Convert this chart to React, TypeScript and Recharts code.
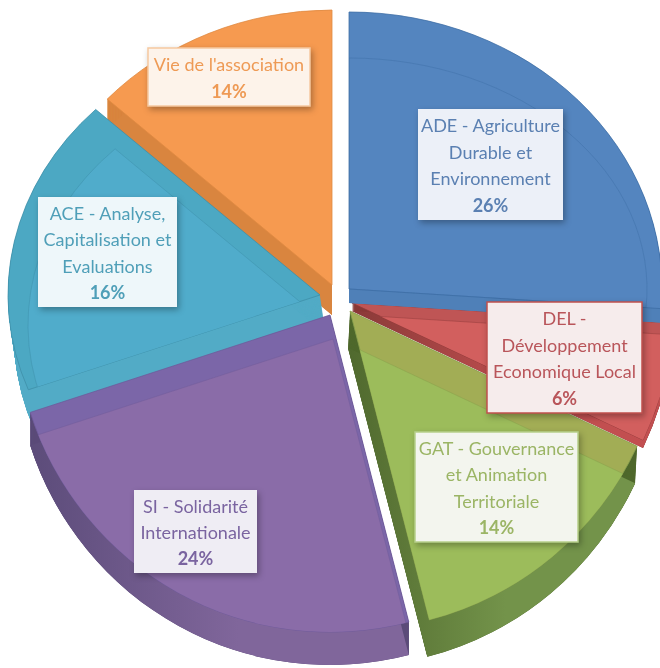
import React from "react";
import { PieChart, Pie } from "recharts";

// Drawn counter-clockwise from the top so that later slices overlap earlier ones.
const sliceKeys = ["VIE", "ACE", "SI", "GAT", "DEL", "ADE"];
const sliceShares = [14, 16, 24, 14, 6, 26];
const sliceLabels = [
  ["Vie de l'association"],
  ["ACE - Analyse,", "Capitalisation et", "Evaluations"],
  ["SI - Solidarité", "Internationale"],
  ["GAT - Gouvernance", "et Animation", "Territoriale"],
  ["DEL -", "Développement", "Economique Local"],
  ["ADE - Agriculture", "Durable et", "Environnement"],
];
const chartData = sliceKeys.map((name, i) => ({ name, value: sliceShares[i] }));

// Styles and geometry of the exploded, tilted slices (not data).
const CX = 340;
const CY = 305;
const explode = [[-8, -20], [-20, -10], [-10, 10], [10, 6], [12, -2], [9, -16]];
const radii = [[305, 275], [312, 267], [315, 317], [317, 319], [322, 320], [313, 277]];
const wallShift = [[0, 30], [6, 40], [0, 33], [-2, 37], [0, 8], [0, 14]];
const inner = [
  { dx: 0, dy: 0, rx: 0, ry: 0 },
  { dx: 8, dy: 30, rx: 300, ry: 250 },
  { dx: 3, dy: 24, rx: 340, ry: 340 },
  { dx: 6, dy: 37, rx: 340, ry: 340 },
  { dx: 5, dy: 12, rx: 330, ry: 330 },
  { dx: 0, dy: 0, rx: 298, ry: 231 },
];
const faceFill = ["#f69a50", "#4ca8c3", "#7b66a8", "#a2ad55", "#bf5555", "#5485bf"];
const innerFill = ["none", "#50accb", "#8a6ca8", "#9cbc5b", "#d25f5e", "none"];
const wallLeft = ["#d9853f", "#52abc6", "#5c4c7a", "#50692e", "#8a3a38", "#4f80b8"];
const wallRight = ["#d9853f", "#52abc6", "#80669b", "#73934a", "#c24f50", "#4f80b8"];
const lineColor = ["#e08a42", "#3f8fa8", "#6f5a9a", "#869f4c", "#8e3a3a", "#3f6ea6"];
const textColor = ["#ee9a55", "#4f9fb8", "#7a64a0", "#9bb565", "#b9555a", "#5b80b2"];
const boxStroke = ["#f6c9a0", "none", "none", "#b7cf8a", "#c0504d", "none"];
const boxFill = ["#fdf3ea", "#eef7fa", "#efedf4", "#f3f5ee", "#f6ecec", "#ecf0f8"];
const boxes = [
  [148, 48, 162, 58],
  [38, 197, 139, 110],
  [134, 490, 123, 83],
  [415, 432, 163, 110],
  [487, 302, 155, 111],
  [418, 109, 145, 111],
];

const pt = (cx: number, cy: number, rx: number, ry: number, deg: number) => {
  const a = (deg * Math.PI) / 180;
  const k = (rx * ry) / Math.hypot(ry * Math.cos(a), rx * Math.sin(a));
  return [cx + k * Math.cos(a), cy - k * Math.sin(a)];
};

const wedge = (cx: number, cy: number, rx: number, ry: number, a0: number, a1: number) => {
  const lo = Math.min(a0, a1);
  const hi = Math.max(a0, a1);
  const p1 = pt(cx, cy, rx, ry, hi);
  const p2 = pt(cx, cy, rx, ry, lo);
  const large = hi - lo > 180 ? 1 : 0;
  return `M${cx},${cy}L${p1[0]},${p1[1]}A${rx},${ry} 0 ${large} 1 ${p2[0]},${p2[1]}Z`;
};

const SliceShape = (props: any) => {
  const { cx, cy, startAngle, endAngle, index } = props;
  const ax = cx + explode[index][0];
  const ay = cy + explode[index][1];
  const [rx, ry] = radii[index];
  const [wx, wy] = wallShift[index];
  const inn = inner[index];
  const steps = Math.ceil(Math.hypot(wx, wy) * 2);
  const layers = Array.from({ length: steps }, (_, i) => 1 - i / steps);
  const faceD = wedge(ax, ay, rx, ry, startAngle, endAngle);
  const gid = `wall-${index}`;
  const cid = `clip-${index}`;
  return (
    <g>
      <defs>
        <linearGradient id={gid} x1="0" y1="0" x2="1" y2="0">
          <stop offset="0" stopColor={wallLeft[index]} />
          <stop offset="0.55" stopColor={wallRight[index]} />
          <stop offset="1" stopColor={wallRight[index]} />
        </linearGradient>
        <clipPath id={cid}>
          <path d={faceD} />
        </clipPath>
      </defs>
      <g>
        {layers.map((s) => (
          <path key={s} d={wedge(ax + wx * s, ay + wy * s, rx, ry, startAngle, endAngle)} fill={wallLeft[index]} />
        ))}
        <path d={wedge(ax + wx, ay + wy, rx, ry, startAngle, endAngle)} fill={`url(#${gid})`} />
      </g>
      <path d={faceD} fill={faceFill[index]} stroke={lineColor[index]} strokeWidth={0.8} />
      {inn.rx > 0 && (
        <path
          d={wedge(ax + inn.dx, ay + inn.dy, inn.rx, inn.ry, startAngle, endAngle)}
          fill={innerFill[index]}
          stroke={lineColor[index]}
          strokeOpacity={0.45}
          strokeWidth={1}
          clipPath={`url(#${cid})`}
        />
      )}
    </g>
  );
};

const LINE_H = 26.4;
const SliceLabel = (props: any) => {
  const { index } = props;
  const [x, y, w, h] = boxes[index];
  const lines = sliceLabels[index];
  const total = lines.length + 1;
  const firstY = y + h / 2 - ((total - 1) * LINE_H) / 2 + 7.5;
  return (
    <g>
      <rect
        x={x}
        y={y}
        width={w}
        height={h}
        fill={boxFill[index]}
        stroke={boxStroke[index]}
        strokeWidth={1.5}
        style={{ filter: "drop-shadow(2px 3px 3px rgba(0,0,0,0.3))" }}
      />
      <text x={x + w / 2} y={firstY} textAnchor="middle" fontFamily="Lato, sans-serif" fontSize={18} fill={textColor[index]}>
        {lines.map((l, i) => (
          <tspan key={l} x={x + w / 2} y={firstY + i * LINE_H}>
            {l}
          </tspan>
        ))}
        <tspan x={x + w / 2} y={firstY + lines.length * LINE_H} fontWeight={700}>
          {sliceShares[index]}%
        </tspan>
      </text>
    </g>
  );
};

export default function App() {
  return (
    <div style={{ position: "absolute", left: 0, top: 0, width: 660, height: 668, overflow: "hidden", background: "#fff" }}>
      <div style={{ filter: "blur(0.5px)" }}>
        <PieChart width={660} height={668} margin={{ top: 0, right: 0, bottom: 0, left: 0 }}>
          <Pie
            data={chartData}
            dataKey="value"
            nameKey="name"
            cx={CX}
            cy={CY}
            outerRadius={300}
            startAngle={90}
            endAngle={450}
            stroke="none"
            shape={SliceShape}
            label={SliceLabel}
            labelLine={false}
            isAnimationActive={false}
          />
        </PieChart>
      </div>
    </div>
  );
}
